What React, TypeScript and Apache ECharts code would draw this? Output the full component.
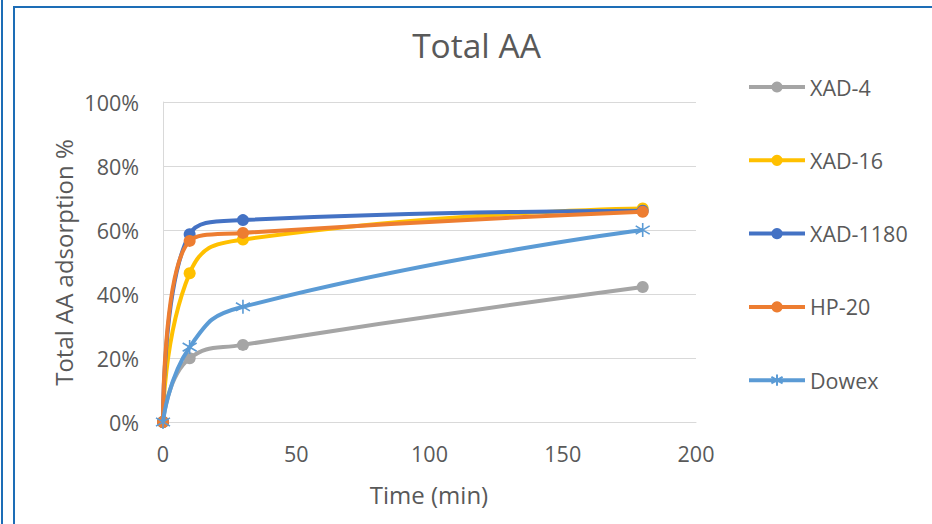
import React, { useEffect, useRef } from "react";
import * as echarts from "echarts";

const times = [0, 10, 30, 180];
const seriesNames = ["XAD-4", "XAD-16", "XAD-1180", "HP-20", "Dowex"];
const xad4 = [0, 0.199, 0.241, 0.422];
const xad16 = [0, 0.465, 0.57, 0.667];
const xad1180 = [0, 0.587, 0.631, 0.66];
const hp20 = [0, 0.566, 0.591, 0.657];
const dowex = [0, 0.234, 0.36, 0.6];
const colors = ["#a5a5a5", "#ffc000", "#4472c4", "#ed7d31", "#5b9bd5"];
const xTicks = [0, 50, 100, 150, 200];
const yTicks = [0, 0.2, 0.4, 0.6, 0.8, 1];

const FONT = "Open Sans";
const TXT = "#595959";
const FRAME = "#1d6db6";
const ASTERISK = "path://M6,0L6,12M1,2.5L11,9.5M1,9.5L11,2.5";

export default function App() {
  const ref = useRef<HTMLDivElement>(null);
  useEffect(() => {
    if (!ref.current) return;
    const chart = echarts.init(ref.current, undefined, { renderer: "svg" });
    const all = [xad4, xad16, xad1180, hp20, dowex];
    const series = all.map((vals, i) => {
      const isStar = i === 4;
      return {
        name: seriesNames[i],
        type: "line",
        smooth: 0.5,
        data: vals.map((v, j) => [times[j], v]),
        symbol: isStar ? ASTERISK : "circle",
        symbolSize: isStar ? 14 : 12,
        showSymbol: true,
        lineStyle: { color: colors[i], width: 4 },
        itemStyle: isStar
          ? { color: "rgba(0,0,0,0)", borderColor: colors[i], borderWidth: 1.6 }
          : { color: colors[i], borderWidth: 0 },
        z: 2 + i,
      };
    });
    chart.setOption({
      animation: false,
      backgroundColor: "#ffffff",
      textStyle: { fontFamily: FONT, color: TXT },
      grid: { left: 163, right: 236, top: 102, bottom: 102, containLabel: false },
      xAxis: {
        type: "value",
        min: xTicks[0],
        max: xTicks[xTicks.length - 1],
        interval: xTicks[1] - xTicks[0],
        axisLine: { show: true, lineStyle: { color: "#d9d9d9", width: 1 } },
        axisTick: { show: false },
        splitLine: { show: false },
        axisLabel: { fontSize: 21.5, color: TXT, fontFamily: FONT, margin: 20 },
      },
      yAxis: {
        type: "value",
        min: yTicks[0],
        max: yTicks[yTicks.length - 1],
        interval: yTicks[1] - yTicks[0],
        axisLine: { show: true, lineStyle: { color: "#d9d9d9", width: 1 } },
        axisTick: { show: false },
        splitLine: { show: true, lineStyle: { color: "#d9d9d9", width: 1 } },
        axisLabel: {
          fontSize: 21.5,
          color: TXT,
          fontFamily: FONT,
          margin: 24,
          formatter: (v: number) => Math.round(v * 100) + "%",
        },
      },
      legend: {
        orient: "vertical",
        left: 742,
        top: 71,
        itemWidth: 56,
        itemHeight: 14,
        itemGap: 51.3,
        data: seriesNames,
        lineStyle: { width: 4 },
        textStyle: { fontSize: 21.5, color: TXT, fontFamily: FONT, lineHeight: 22 },
      },
      graphic: [
        { type: "rect", shape: { x: 13, y: 6, width: 2, height: 518 }, style: { fill: FRAME }, silent: true },
        { type: "rect", shape: { x: 13, y: 6, width: 919, height: 2 }, style: { fill: FRAME }, silent: true },
        {
          type: "text",
          x: 476.5,
          y: 44.5,
          style: { text: "Total AA", fontSize: 33.5, fontFamily: FONT, fill: TXT, textAlign: "center", textVerticalAlign: "middle" },
        },
        {
          type: "text",
          x: 429,
          y: 494,
          style: { text: "Time (min)", fontSize: 24, fontFamily: FONT, fill: TXT, textAlign: "center", textVerticalAlign: "middle" },
        },
        {
          type: "text",
          x: 63.5,
          y: 262.5,
          rotation: Math.PI / 2,
          style: { text: "Total AA adsorption %", fontSize: 24, fontFamily: FONT, fill: TXT, textAlign: "center", textVerticalAlign: "middle" },
        },
      ],
      series,
    });
    return () => chart.dispose();
  }, []);
  return (
    <div style={{ position: "absolute", left: 0, top: 0, width: 932, height: 524, overflow: "hidden" }}>
      <div ref={ref} style={{ position: "absolute", left: 0, top: 0, width: 932, height: 524 }} />
      <div style={{ position: "absolute", left: 1, top: 0, width: 2, height: 524, background: FRAME }} />
    </div>
  );
}
